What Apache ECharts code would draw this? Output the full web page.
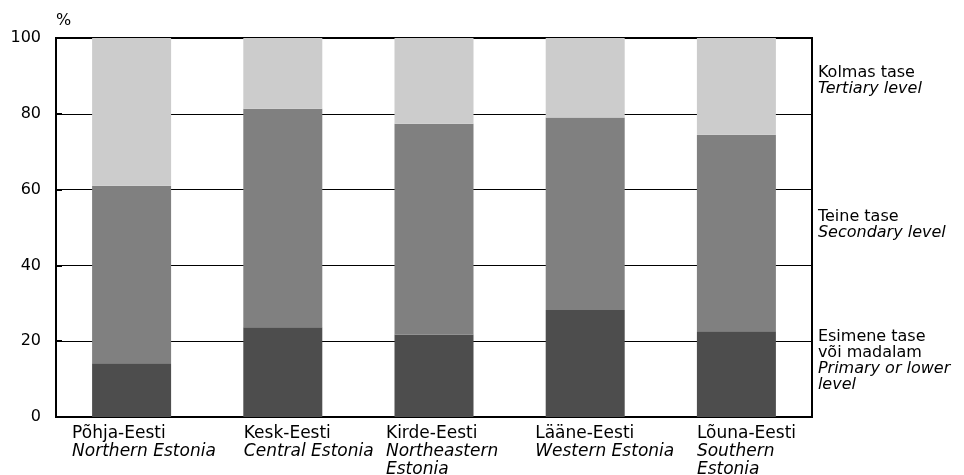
<!DOCTYPE html>
<html>
<head>
<meta charset="utf-8">
<script src="https://cdn.jsdelivr.net/npm/echarts@6/dist/echarts.min.js"></script>
<style>html,body{margin:0;padding:0;background:#fff}#c{width:964px;height:475px}</style>
</head>
<body>
<div id="c"></div>
<script>
const categoriesEt = ['Põhja-Eesti', 'Kesk-Eesti', 'Kirde-Eesti', 'Lääne-Eesti', 'Lõuna-Eesti'];
const categoriesEn = ['Northern Estonia', 'Central Estonia', 'Northeastern\nEstonia', 'Western Estonia', 'Southern\nEstonia'];
const primary = [14.2, 23.7, 21.8, 28.2, 22.6];
const secondary = [46.8, 57.6, 55.6, 50.8, 51.9];
const tertiary = [39.0, 18.7, 22.6, 21.0, 25.5];
const seriesNamesEt = ['Esimene tase\nvõi madalam', 'Teine tase', 'Kolmas tase'];
const seriesNamesEn = ['Primary or lower\nlevel', 'Secondary level', 'Tertiary level'];
const yTickLabels = ['0', '20', '40', '60', '80', '100'];

// layout / style constants
const FONT = 'DejaVu Sans';
const labelBoxW = [119, 78, 96, 100, 79];
const colors = ['#4d4d4d', '#808080', '#cccccc'];
const legendOffsets = [-13, -8, -5];

const rich = {};
labelBoxW.forEach((w, i) => {
  rich['r' + i] = { width: w, align: 'left', fontFamily: FONT, fontSize: 17, lineHeight: 18, color: '#000' };
  rich['i' + i] = { width: w, align: 'left', fontFamily: FONT, fontSize: 17, lineHeight: 18, color: '#000', fontStyle: 'italic' };
});

const seriesRich = {
  a: { fontFamily: FONT, fontSize: 16, lineHeight: 16, color: '#000', align: 'left' },
  b: { fontFamily: FONT, fontSize: 16, lineHeight: 16, color: '#000', fontStyle: 'italic', align: 'left' }
};

function legendText(k) {
  const et = seriesNamesEt[k].split('\n').map(l => '{a|' + l + '}');
  const en = seriesNamesEn[k].split('\n').map(l => '{b|' + l + '}');
  return et.concat(en).join('\n');
}

function makeData(arr, k) {
  const last = arr.length - 1;
  return arr.map((v, i) => i === last ? {
    value: v,
    label: {
      show: true, position: 'right', distance: 42, offset: [0, legendOffsets[k]],
      formatter: legendText(k), rich: seriesRich
    }
  } : v);
}

const allSeries = [primary, secondary, tertiary].map((arr, k) => ({
  type: 'bar',
  stack: 'total',
  barWidth: 79,
  itemStyle: { color: colors[k] },
  data: makeData(arr, k),
  silent: true
}));

const chart = echarts.init(document.getElementById('c'), null, { renderer: 'canvas' });
chart.setOption({
  animation: false,
  backgroundColor: '#fff',
  grid: { left: 56, right: 152, top: 38, bottom: 58, containLabel: false, outerBoundsMode: 'none', show: true, borderColor: '#000', borderWidth: 2, backgroundColor: 'transparent' },
  xAxis: {
    type: 'category',
    data: categoriesEt,
    axisLine: { show: true, lineStyle: { color: '#000', width: 2 } },
    axisTick: { show: false },
    axisLabel: {
      interval: 0,
      margin: 8,
      align: 'center',
      formatter: (value, idx) => {
        const en = categoriesEn[idx].split('\n').map(l => '{i' + idx + '|' + l + '}');
        return ['{r' + idx + '|' + value + '}'].concat(en).join('\n');
      },
      rich: rich
    }
  },
  yAxis: {
    type: 'value',
    min: 0, max: 100, interval: 20,
    name: '%',
    nameLocation: 'end',
    nameGap: 17,
    nameTextStyle: { fontFamily: FONT, fontSize: 16, color: '#000', align: 'left', verticalAlign: 'middle' },
    axisLine: { show: true, lineStyle: { color: '#000', width: 2 } },
    axisTick: { show: true, inside: true, length: 6, lineStyle: { color: '#000', width: 2 } },
    splitLine: { show: true, lineStyle: { color: '#000', width: 1 } },
    axisLabel: {
      margin: 15,
      fontFamily: FONT, fontSize: 16, color: '#000',
      formatter: v => yTickLabels[Math.round(v / 20)]
    }
  },
  series: allSeries
});
</script>
</body>
</html>
